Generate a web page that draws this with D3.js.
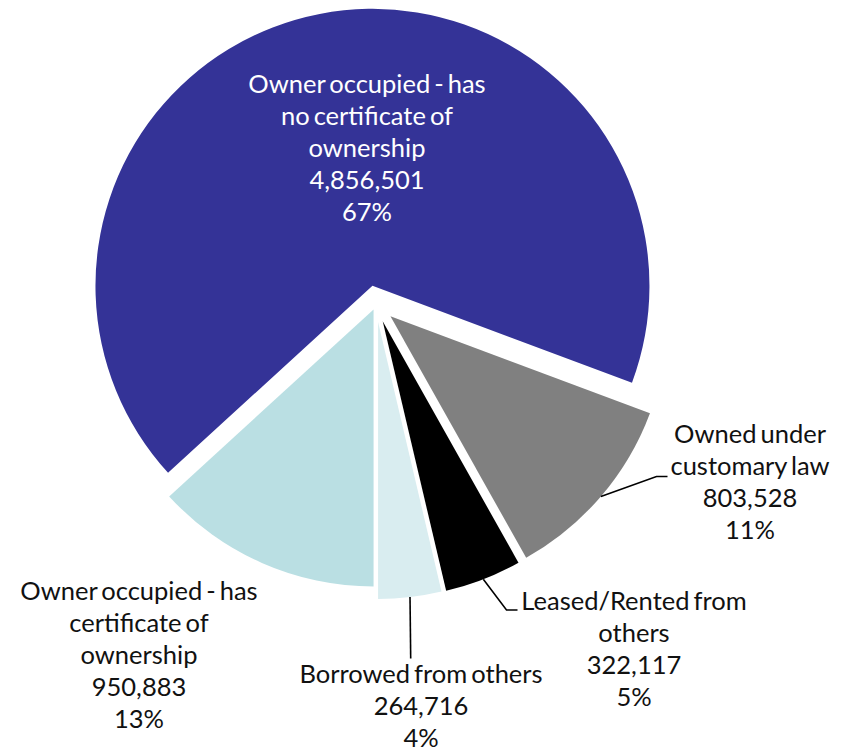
<!DOCTYPE html>
<html>
<head>
<meta charset="utf-8">
<script src="https://cdn.jsdelivr.net/npm/d3@7"></script>
<style>
  html, body { margin: 0; padding: 0; background: #fff; }
  svg { display: block; }
  text { font-family: Lato, "Open Sans", sans-serif; }
</style>
</head>
<body>
<svg id="chart" width="844" height="752"></svg>
<script>
// Housing tenure: number of households by tenure status
const categories = [
  "Owner occupied - has certificate of ownership",
  "Owner occupied - has no certificate of ownership",
  "Owned under customary law",
  "Leased/Rented from others",
  "Borrowed from others"
];
const households = [950883, 4856501, 803528, 322117, 264716];
const shareLabels = ["13%", "67%", "11%", "5%", "4%"];
// Category names as they wrap inside each label
const nameLines = [
  ["Owner occupied - has", "certificate of", "ownership"],
  ["Owner occupied - has", "no certificate of", "ownership"],
  ["Owned under", "customary law"],
  ["Leased/Rented from", "others"],
  ["Borrowed from others"]
];
const colors = ["#badfe3", "#343397", "#808080", "#000000", "#d9edf0"];

// Layout
const cx = 376, cy = 304, radius = 277;
const explode = [6, 18.5, 19, 18.5, 18];
const lineGap = 32;
const labelPos = [
  { x: 139, y: 600, fill: "#111", leader: null },
  { x: 367, y: 93,  fill: "#ffffff", leader: null },
  { x: 750, y: 443, fill: "#111", leader: { bend: [656.5, 476.5], end: [667.5, 476.5] } },
  { x: 634, y: 610, fill: "#111", leader: { bend: [506.5, 610], end: [517.5, 610] } },
  { x: 421, y: 683, fill: "#111", leader: { bend: null, end: [410.7, 658.5] } }
];

const svg = d3.select("#chart");
const fmt = d3.format(",");

const pie = d3.pie().sort(null)
  .startAngle(Math.PI).endAngle(3 * Math.PI)
  .value(d => d);
const arcs = pie(households);
const arc = d3.arc().innerRadius(0).outerRadius(radius);

const midAngle = d => (d.startAngle + d.endAngle) / 2;
const offset = (d, i) => {
  const a = midAngle(d);
  return [cx + Math.sin(a) * explode[i], cy - Math.cos(a) * explode[i]];
};

const g = svg.append("g");
g.selectAll("path.slice")
  .data(arcs)
  .join("path")
  .attr("class", "slice")
  .attr("transform", (d, i) => `translate(${offset(d, i)})`)
  .attr("d", arc)
  .attr("fill", (d, i) => colors[i]);

// Leader lines from the middle of each outer arc to its label
arcs.forEach((d, i) => {
  const L = labelPos[i].leader;
  if (!L) return;
  const [ox, oy] = offset(d, i);
  const a = midAngle(d);
  const start = [ox + Math.sin(a) * radius, oy - Math.cos(a) * radius];
  const pts = [start];
  if (L.bend) pts.push(L.bend);
  pts.push(L.end);
  g.append("path")
    .attr("d", d3.line()(pts))
    .attr("fill", "none")
    .attr("stroke", "#000")
    .attr("stroke-width", 1.6);
});

// Data labels: name lines, value, share
arcs.forEach((d, i) => {
  const p = labelPos[i];
  const lines = nameLines[i].concat([fmt(households[i]), shareLabels[i]]);
  const t = svg.append("text")
    .attr("text-anchor", "middle")
    .attr("fill", p.fill)
    .attr("font-size", 25.5)
    .attr("word-spacing", -2.5);
  lines.forEach((s, k) => {
    t.append("tspan")
      .attr("x", p.x)
      .attr("y", p.y + k * lineGap)
      .text(s);
  });
});
</script>
</body>
</html>
